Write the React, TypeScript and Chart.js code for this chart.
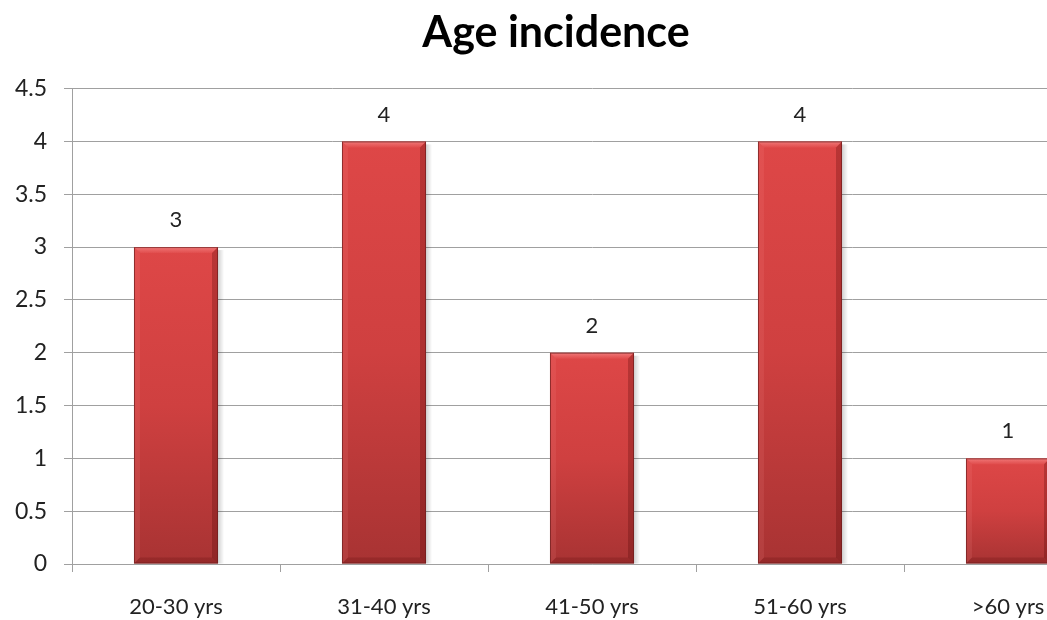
import React, { useEffect, useRef } from "react";
import { Chart, registerables } from "chart.js";

Chart.register(...registerables);

const categories = ["20-30 yrs", "31-40 yrs", "41-50 yrs", "51-60 yrs", ">60 yrs"];
const values = [3, 4, 2, 4, 1];
const yTicks = [0, 0.5, 1, 1.5, 2, 2.5, 3, 3.5, 4, 4.5];
const titleText = "Age incidence";

const FONT = "Lato, 'Open Sans', sans-serif";

const barDecor = {
  id: "barDecor",
  beforeDatasetsDraw(chart: any) {
    const ctx = chart.ctx;
    const meta = chart.getDatasetMeta(0);
    meta.data.forEach((el: any) => {
      const r = el.x + el.width / 2;
      const t = el.y;
      const b = el.base;
      ctx.save();
      const g = ctx.createLinearGradient(r, 0, r + 6, 0);
      g.addColorStop(0, "rgba(0,0,0,0.18)");
      g.addColorStop(1, "rgba(0,0,0,0)");
      ctx.fillStyle = g;
      ctx.fillRect(r, t + 3, 6, b - t - 3);
      ctx.restore();
    });
  },
  afterDatasetsDraw(chart: any) {
    const ctx = chart.ctx;
    const meta = chart.getDatasetMeta(0);
    meta.data.forEach((el: any, i: number) => {
      const l = el.x - el.width / 2;
      const r = el.x + el.width / 2;
      const t = el.y;
      const b = el.base;
      const bv = 6;
      ctx.save();
      const gt = ctx.createLinearGradient(0, t, 0, t + bv);
      gt.addColorStop(0, "rgba(255,170,170,0.55)");
      gt.addColorStop(1, "rgba(255,140,140,0.1)");
      ctx.fillStyle = gt;
      ctx.beginPath();
      ctx.moveTo(l, t); ctx.lineTo(r, t); ctx.lineTo(r - bv, t + bv); ctx.lineTo(l + bv, t + bv); ctx.closePath(); ctx.fill();
      ctx.fillStyle = "rgba(255,160,160,0.12)";
      ctx.beginPath();
      ctx.moveTo(l, t); ctx.lineTo(l + bv, t + bv); ctx.lineTo(l + bv, b - bv); ctx.lineTo(l, b); ctx.closePath(); ctx.fill();
      ctx.fillStyle = "rgba(70,0,0,0.25)";
      ctx.beginPath();
      ctx.moveTo(r, t); ctx.lineTo(r - bv, t + bv); ctx.lineTo(r - bv, b - bv); ctx.lineTo(r, b); ctx.closePath(); ctx.fill();
      ctx.fillStyle = "rgba(70,0,0,0.18)";
      ctx.beginPath();
      ctx.moveTo(l, b); ctx.lineTo(l + bv, b - bv); ctx.lineTo(r - bv, b - bv); ctx.lineTo(r, b); ctx.closePath(); ctx.fill();
      ctx.strokeStyle = "rgba(110,30,30,0.7)";
      ctx.lineWidth = 1;
      ctx.strokeRect(l + 0.5, t + 0.5, r - l - 1, b - t - 1);
      ctx.fillStyle = "#222";
      ctx.font = `22px ${FONT}`;
      ctx.textAlign = "center";
      ctx.textBaseline = "middle";
      ctx.fillText(String(values[i]), el.x, t - 27);
      ctx.restore();
    });
  },
};

export default function App() {
  const ref = useRef<HTMLCanvasElement>(null);
  useEffect(() => {
    if (!ref.current) return;
    const chart = new Chart(ref.current, {
      type: "bar",
      data: {
        labels: categories,
        datasets: [
          {
            data: values,
            backgroundColor: (c: any) => {
              const ch = c.chart;
              const ys = ch.scales && ch.scales.y;
              if (!ys || c.raw === undefined) return "#c83c3c";
              const top = ys.getPixelForValue(c.raw);
              const base = ys.getPixelForValue(0);
              if (!isFinite(top) || !isFinite(base) || top === base) return "#c83c3c";
              const g = ch.ctx.createLinearGradient(0, top, 0, base);
              g.addColorStop(0, "#de4747");
              g.addColorStop(0.5, "#cf4040");
              g.addColorStop(1, "#a83333");
              return g;
            },
            borderWidth: 0,
            categoryPercentage: 1,
            barPercentage: 0.404,
          },
        ],
      },
      options: {
        animation: false,
        responsive: true,
        maintainAspectRatio: false,
        layout: { padding: { left: 0, right: 8, top: 0, bottom: 0 } },
        plugins: {
          legend: { display: false },
          tooltip: { enabled: false },
          title: {
            display: true,
            text: titleText,
            color: "#000",
            font: { family: FONT, size: 43, weight: "bold", lineHeight: 1.2 },
            padding: { top: 7, bottom: 30 },
          },
        },
        scales: {
          x: {
            afterFit: (axis: any) => {
              axis.height = 56;
            },
            grid: {
              display: true,
              drawOnChartArea: false,
              drawTicks: true,
              tickLength: 8,
              color: "#a0a0a0",
              offset: true,
            },
            border: { display: true, color: "#a0a0a0" },
            ticks: {
              color: "#222",
              font: { family: FONT, size: 22, lineHeight: 1.1 },
              padding: 23,
              maxRotation: 0,
            },
          },
          y: {
            min: 0,
            max: 4.5,
            afterBuildTicks: (axis: any) => {
              axis.ticks = yTicks.map((v) => ({ value: v }));
            },
            afterFit: (axis: any) => {
              axis.width = 72;
            },
            grid: {
              color: "#a0a0a0",
              drawTicks: true,
              tickLength: 8,
            },
            border: { display: true, color: "#a0a0a0" },
            ticks: {
              color: "#222",
              font: { family: FONT, size: 23 },
              padding: 17,
              callback: (v: any) => String(v),
            },
          },
        },
      },
      plugins: [barDecor],
    });
    return () => chart.destroy();
  }, []);
  return (
    <div style={{ position: "fixed", left: 0, top: 0, width: 1047, height: 620, overflow: "hidden", background: "#fff" }}>
      <div style={{ position: "absolute", left: 0, top: 0, width: 1120, height: 620 }}>
        <canvas ref={ref} />
      </div>
    </div>
  );
}
